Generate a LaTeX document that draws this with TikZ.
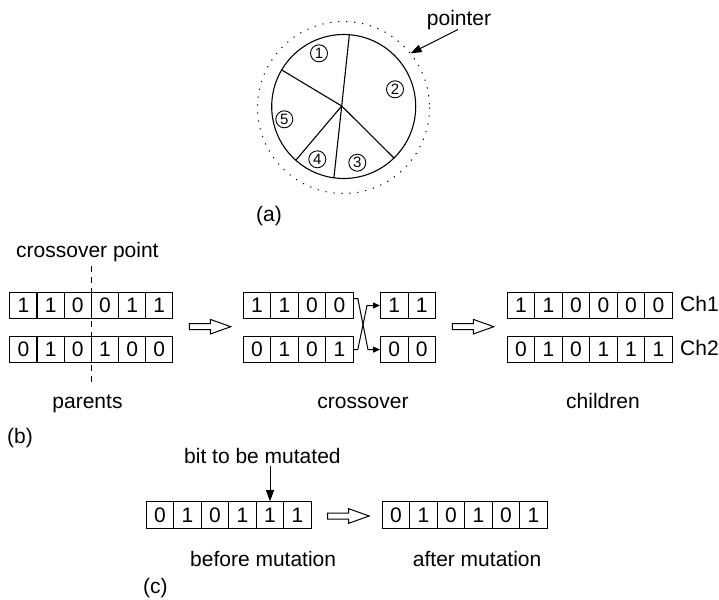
\documentclass[tikz,border=0pt]{standalone}
\usepackage{fontspec}
\setmainfont{Liberation Sans}
\usetikzlibrary{arrows.meta,calc}
\begin{document}
\begin{tikzpicture}[x=1pt,y=-1pt,
  every node/.style={font=\fontsize{21}{25}\selectfont, text=black},
  lbl/.style={anchor=base west, inner sep=0},
  clbl/.style={anchor=base, inner sep=0},
  cell/.style={draw, line width=1.1pt, minimum height=26.5pt, inner sep=0, anchor=west},
  num/.style={circle, draw, line width=0.9pt, minimum size=17pt, inner sep=0,
    font=\fontsize{15}{15}\selectfont},
  pie/.style={line width=1.1pt},
  link/.style={line width=1pt, -{Triangle[length=7pt,width=6pt]}},
  pointarrow/.style={line width=1pt, -{Triangle[length=11pt,width=8pt]}},
  hollow/.pic={\draw[line width=1pt, fill=white]
    (0,-3) -- (21,-3) -- (21,-7.3) -- (41.5,0) -- (21,7.3) -- (21,3) -- (0,3) -- cycle;}
]
\useasboundingbox (0,0) rectangle (719,599);

% #1 name, #2 cell width, #3 left x, #4 centre y, #5 bits
\newcommand\bitrow[5]{%
  \foreach \d [count=\i] in {#5} {
    \node[cell, minimum width=#2pt] (#1-\i) at ({#3+(\i-1)*#2}, #4) {\d};
  }%
}

% ---------- (a) roulette wheel ----------
\coordinate (hub) at (341.7,106);
\draw[pie] (343.7,106.5) circle[radius=72];
\draw[line width=1pt, dash pattern=on 1.2pt off 6.8pt] (343.5,107.5) circle[radius=86];
\draw[pie] (hub) -- (349.35,34.7);
\draw[pie] (hub) -- (281.7,69.96);
\draw[pie] (hub) -- (295.8,160.3);
\draw[pie] (hub) -- (333.9,177.8);
\draw[pie] (hub) -- (394.0,158.0);
\node[num] (s1) at (319,53.3) {1};
\node[num] (s2) at (395,89.3) {2};
\node[num] (s3) at (357.3,162.7) {3};
\node[num] (s4) at (317.3,159.3) {4};
\node[num] (s5) at (284.3,119.3) {5};
\node[lbl] (ptr) at (426.7,26) {pointer};
\coordinate (ptrtip) at (410.7,53.3);
\draw[pointarrow] ($(ptr.base)+(-1,3.5)$) -- (ptrtip);
\node[lbl] (capa) at (256,221) {(a)};

% ---------- (b) crossover ----------
\node[lbl] (cpt) at (16,257.7) {crossover point};
\bitrow{pa}{27.17}{9.3}{305.5}{1,1,0,0,1,1}
\bitrow{pb}{27.17}{9.3}{349.6}{0,1,0,1,0,0}
\coordinate (cut1) at ($(pa-3.east)+(0,-39.5)$);
\coordinate (cut2) at ($(pb-3.east)+(0,32.1)$);
\draw[line width=1pt, dash pattern=on 6pt off 5pt] (cut1) -- (cut2);
\node[clbl] (parents) at (87.5,408) {parents};

\pic at (189.3,326.7) {hollow};

\bitrow{xa}{27.5}{242.7}{305.5}{1,1,0,0}
\bitrow{xb}{27.5}{242.7}{349.6}{0,1,0,1}
\bitrow{ta}{27.5}{380}{305.5}{1,1}
\bitrow{tb}{27.5}{380}{349.6}{0,0}
\draw[link] ($(xa-4.east)+(0,-7)$) -- ++(4,0) -- (368,349.6) -- (tb-1.west);
\draw[link] (xb-4.east) -- ++(4,0) -- (367,305.5) -- (ta-1.west);
\node[clbl] (xlbl) at (363,408) {crossover};

\pic at (452.3,326.7) {hollow};

\bitrow{ca}{27.5}{506.7}{305.5}{1,1,0,0,0,0}
\bitrow{cb}{27.5}{506.7}{349.6}{0,1,0,1,1,1}
\node[lbl] (ch1) at (680,311.7) {Ch1};
\node[lbl] (ch2) at (680,355) {Ch2};
\node[clbl] (children) at (603,408) {children};
\node[lbl] (capb) at (7,443) {(b)};

% ---------- (c) mutation ----------
\node[lbl] (btm) at (184,463.3) {bit to be mutated};
\bitrow{ma}{27.5}{145.7}{515}{0,1,0,1,1,1}
\draw[pointarrow] (btm.south -| ma-5.north) ++(0,2) -- (ma-5.north);
\pic at (327.7,516) {hollow};
\bitrow{mb}{27.5}{381.7}{515}{0,1,0,1,0,1}
\node[lbl] (before) at (190,566.7) {before mutation};
\node[lbl] (after) at (412.7,566.7) {after mutation};
\node[lbl] (capc) at (143,593) {(c)};
\end{tikzpicture}
\end{document}
